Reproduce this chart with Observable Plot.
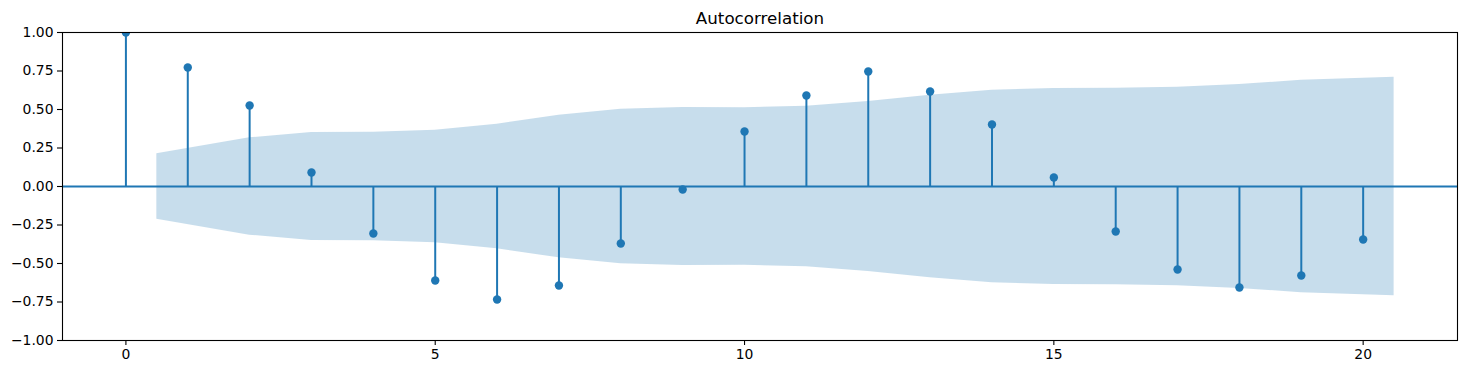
<!DOCTYPE html>
<html>
<head>
<meta charset="utf-8">
<script src="https://cdn.jsdelivr.net/npm/d3@7"></script>
<script src="https://cdn.jsdelivr.net/npm/@observablehq/plot@0.6"></script>
<style>
  html, body { margin: 0; padding: 0; background: #fff; }
  svg { display: block; }
</style>
</head>
<body>
<div id="chart"></div>
<script>
const lags = [0, 1, 2, 3, 4, 5, 6, 7, 8, 9, 10, 11, 12, 13, 14, 15, 16, 17, 18, 19, 20];
const acfValues = [1.0, 0.773, 0.526, 0.091, -0.305, -0.610, -0.734, -0.643, -0.370, -0.019, 0.357, 0.591, 0.747, 0.617, 0.403, 0.058, -0.292, -0.539, -0.656, -0.578, -0.344];
const bandX = [0.5, 2, 3, 4, 5, 6, 7, 8, 9, 10, 11, 12, 13, 14, 15, 16, 17, 18, 19, 20.5];
const bandHalf = [0.212, 0.316, 0.351, 0.353, 0.366, 0.405, 0.463, 0.502, 0.513, 0.511, 0.521, 0.552, 0.593, 0.625, 0.636, 0.638, 0.645, 0.662, 0.690, 0.710];
const yTicks = [-1, -0.75, -0.5, -0.25, 0, 0.25, 0.5, 0.75, 1];
const xTicks = [0, 5, 10, 15, 20];
const title = "Autocorrelation";

const acf = lags.map((l, i) => ({lag: l, value: acfValues[i]}));
const band = bandX.map((x, i) => ({x, lo: -bandHalf[i], hi: bandHalf[i]}));
const C0 = "#1f77b4";
const fmtY = d => d.toFixed(2).replace("-", "\u2212");

const chart = Plot.plot({
  width: 1467,
  height: 374,
  marginLeft: 62,
  marginRight: 10,
  marginTop: 32,
  marginBottom: 34,
  style: {fontFamily: "'DejaVu Sans', sans-serif", background: "#fff"},
  x: {domain: [-1.025, 21.525]},
  y: {domain: [-1, 1]},
  marks: [
    Plot.areaY(band, {x: "x", y1: "lo", y2: "hi", fill: C0, fillOpacity: 0.25, curve: "linear"}),
    Plot.ruleX(acf, {x: "lag", y1: 0, y2: "value", stroke: C0, strokeWidth: 2}),
    Plot.ruleY([0], {stroke: C0, strokeWidth: 2}),
    Plot.dot(acf, {x: "lag", y: "value", r: 4.2, fill: C0, stroke: "none", clip: true}),
    Plot.frame({stroke: "black", strokeWidth: 1.1}),
    Plot.axisY(yTicks, {tickSize: 5, tickPadding: 4, tickFormat: fmtY, fontSize: 13.9, stroke: "black", strokeWidth: 1.1, color: "black", label: null}),
    Plot.axisX(xTicks, {tickSize: 5, tickPadding: 4, tickFormat: d => String(d), fontSize: 13.9, stroke: "black", strokeWidth: 1.1, color: "black", label: null}),
    Plot.text([title], {frameAnchor: "top", lineAnchor: "bottom", dy: -9, fontSize: 16.7, fill: "black"})
  ]
});
document.getElementById("chart").appendChild(chart);
</script>
</body>
</html>
